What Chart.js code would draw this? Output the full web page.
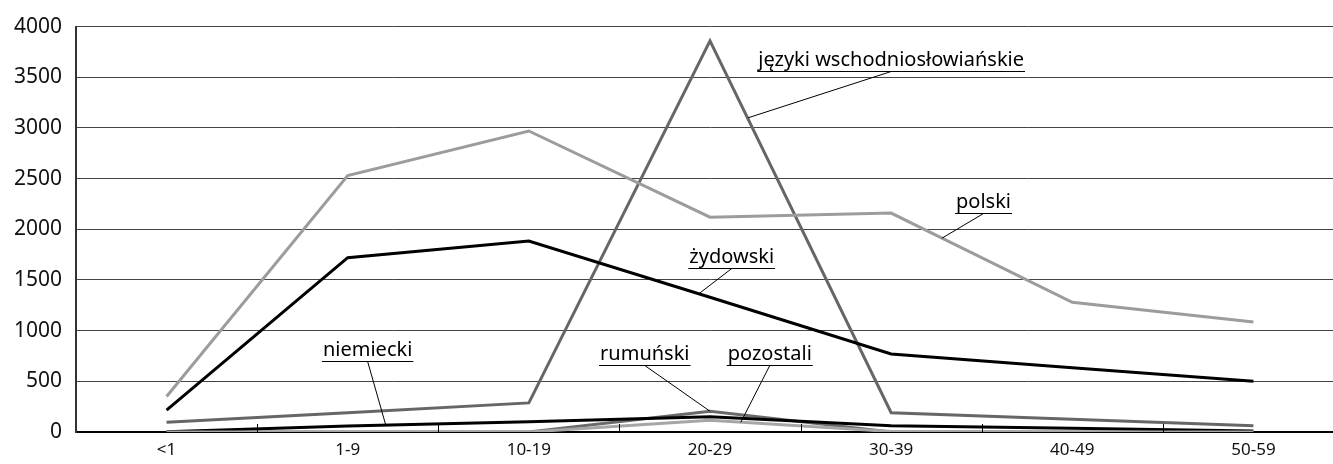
<!DOCTYPE html>
<html>
<head>
<meta charset="utf-8">
<script src="https://cdn.jsdelivr.net/npm/chart.js@4/dist/chart.umd.min.js"></script>
<style>
  html, body { margin: 0; padding: 0; background: #fff; overflow: hidden; }
  #wrap { width: 1344px; height: 464px; }
</style>
</head>
<body>
<div id="wrap"><canvas id="ageChart" width="1344" height="464"></canvas></div>
<script>
const categories = ["<1", "1-9", "10-19", "20-29", "30-39", "40-49", "50-59"];
const yTicks = [0, 500, 1000, 1500, 2000, 2500, 3000, 3500, 4000];

const polski = [350, 2530, 2970, 2120, 2160, 1280, 1085];
const zydowski = [215, 1720, 1885, 1330, 770, 635, 500];
const wschodnioslowianskie = [95, 190, 287, 3860, 190, 126, 62];
const niemiecki = [3, 58, 100, 150, 62, 38, 10];
const rumunski = [0, 0, 0, 205, 0, 0, 0];
const pozostali = [0, 0, 0, 115, 5, 0, 0];

// callout labels: text, label centre (category index, value), leader end (index, value)
const calloutText = ["języki wschodniosłowiańskie", "polski", "żydowski", "niemiecki", "rumuński", "pozostali"];
const calloutAt = [[4.0, 3560], [4.51, 2158], [3.12, 1617], [1.11, 697], [2.64, 662], [3.33, 662]];
const calloutTo = [[3.21, 3100], [4.28, 1912], [2.94, 1366], [1.21, 68], [3.0, 205], [3.17, 95]];

const FONT = "'Noto Sans', sans-serif";

function idxToX(xs, idx) {
  const x0 = xs.getPixelForValue(0);
  const step = xs.getPixelForValue(1) - x0;
  return x0 + idx * step;
}

const innerTicks = {
  id: "innerTicks",
  afterDatasetsDraw(chart) {
    const ctx = chart.ctx;
    const xs = chart.scales.x;
    const bottom = chart.chartArea.bottom;
    ctx.save();
    ctx.strokeStyle = "#000";
    ctx.lineWidth = 1;
    for (let i = 1; i <= categories.length; i++) {
      const x = Math.round(idxToX(xs, i - 0.5)) + 0.5;
      ctx.beginPath();
      ctx.moveTo(x, bottom);
      ctx.lineTo(x, bottom - 8);
      ctx.stroke();
    }
    ctx.restore();
  },
};

const callouts = {
  id: "callouts",
  afterDatasetsDraw(chart) {
    const ctx = chart.ctx;
    const xs = chart.scales.x;
    const ys = chart.scales.y;
    ctx.save();
    ctx.font = "20px " + FONT;
    ctx.fillStyle = "#000";
    ctx.strokeStyle = "#000";
    ctx.lineWidth = 1;
    ctx.textAlign = "center";
    ctx.textBaseline = "alphabetic";
    calloutText.forEach((txt, i) => {
      const cx = idxToX(xs, calloutAt[i][0]);
      const uy = Math.round(ys.getPixelForValue(calloutAt[i][1])) + 0.5;
      const w = ctx.measureText(txt).width;
      ctx.fillText(txt, cx, uy - 6);
      ctx.beginPath();
      ctx.moveTo(cx - w / 2 - 1, uy);
      ctx.lineTo(cx + w / 2 + 1, uy);
      ctx.stroke();
      ctx.beginPath();
      ctx.moveTo(cx, uy);
      ctx.lineTo(idxToX(xs, calloutTo[i][0]), ys.getPixelForValue(calloutTo[i][1]));
      ctx.stroke();
    });
    ctx.restore();
  },
};

function series(label, data, color) {
  return {
    label: label,
    data: data,
    borderColor: color,
    borderWidth: 3,
    pointRadius: 0,
    tension: 0,
    fill: false,
  };
}

new Chart(document.getElementById("ageChart"), {
  type: "line",
  data: {
    labels: categories,
    datasets: [
      series("pozostali", pozostali, "#a6a6a6"),
      series("niemiecki", niemiecki, "#000000"),
      series("rumuński", rumunski, "#6a6a6a"),
      series("polski", polski, "#9c9c9c"),
      series("żydowski", zydowski, "#000000"),
      series("języki wschodniosłowiańskie", wschodnioslowianskie, "#666666"),
    ],
  },
  options: {
    responsive: false,
    animation: false,
    layout: { padding: { top: 23, right: 0, left: 0, bottom: 0 } },
    plugins: {
      legend: { display: false },
      tooltip: { enabled: false },
    },
    scales: {
      x: {
        offset: true,
        grid: { display: false, drawTicks: false },
        border: { display: true, color: "#000", width: 2 },
        ticks: {
          color: "#111",
          font: { family: FONT, size: 17 },
          padding: 8,
          maxRotation: 0,
        },
        afterFit(scale) {
          scale.height = 32;
        },
      },
      y: {
        min: 0,
        max: 4000,
        afterBuildTicks(scale) {
          scale.ticks = yTicks.map((v) => ({ value: v }));
        },
        grid: { color: "#444", lineWidth: 1, drawTicks: false },
        border: { display: true, color: "#333", width: 2 },
        ticks: {
          color: "#111",
          font: { family: FONT, size: 21 },
          padding: 14,
          callback: (v) => String(v),
        },
        afterFit(scale) {
          scale.width = 76;
        },
      },
    },
  },
  plugins: [innerTicks, callouts],
});
</script>
</body>
</html>
